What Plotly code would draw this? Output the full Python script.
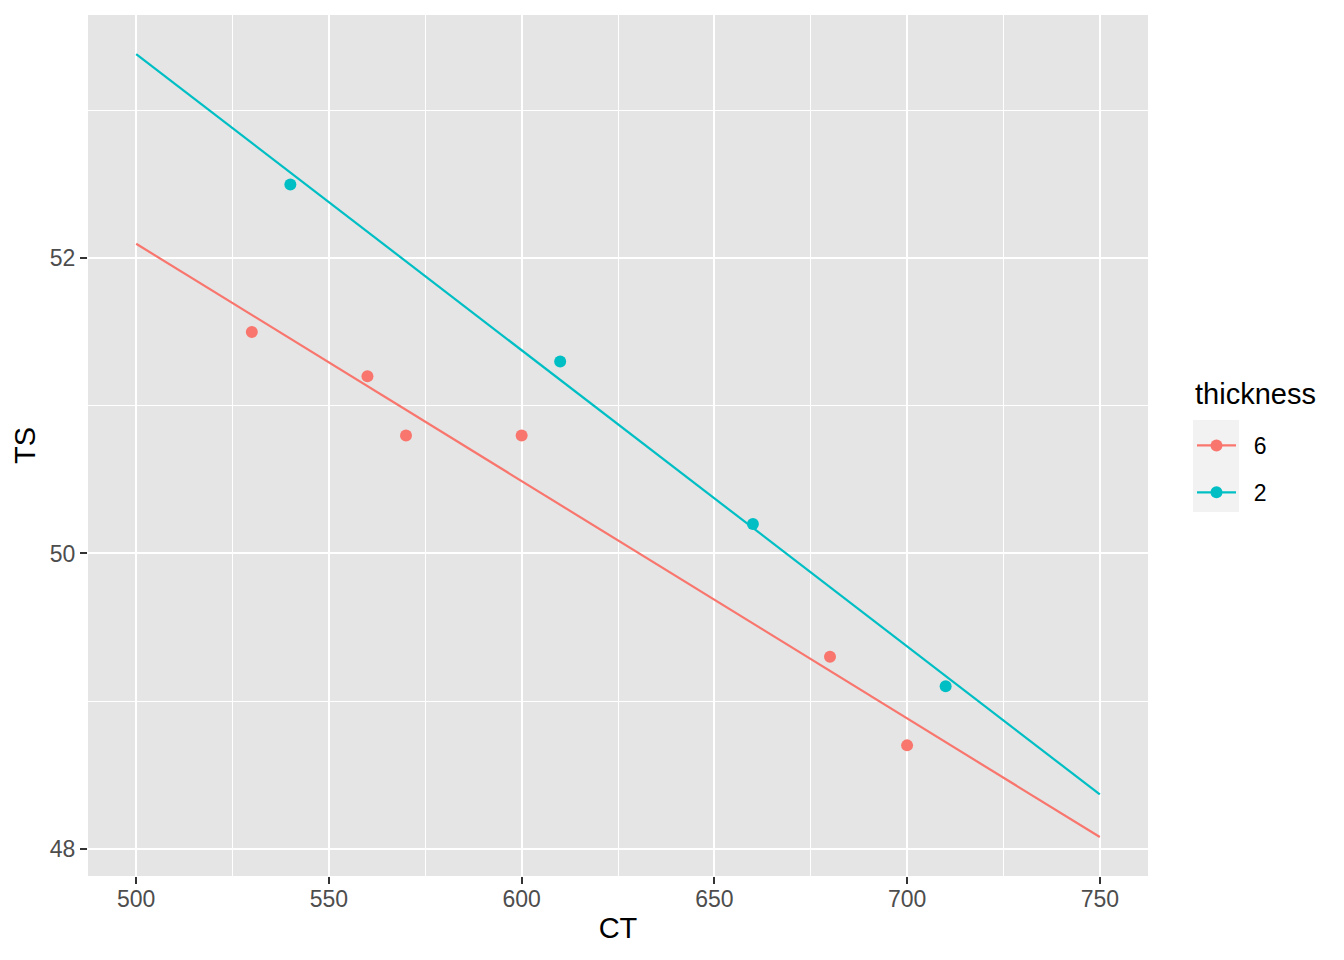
import numpy as np
import plotly.graph_objects as go

# Data
ct_6 = [530, 560, 570, 600, 680, 700]
ts_6 = [51.5, 51.2, 50.8, 50.8, 49.3, 48.7]
ct_2 = [540, 610, 660, 710]
ts_2 = [52.5, 51.3, 50.2, 49.1]
fit_range = [500, 750]
groups = ["6", "2"]
colors = ["#F8766D", "#00BFC4"]

font_family = "Liberation Sans, Arial, Helvetica, sans-serif"

# figure is placed at an 8px page offset, so size/margins compensate
W, H = 1336, 952
ML, MR, MT, MB = 80, 196, 7, 84
PW, PH = W - ML - MR, H - MT - MB


def px_x(px):  # window px -> paper x
    return (px - 8 - ML) / PW


def px_y(py):  # window px -> paper y
    return (H - MB - (py - 8)) / PH


fig = go.Figure()

for name, xs, ys, col in [(groups[0], ct_6, ts_6, colors[0]), (groups[1], ct_2, ts_2, colors[1])]:
    slope, intercept = np.polyfit(xs, ys, 1)
    lx = np.array(fit_range, dtype=float)
    ly = slope * lx + intercept
    fig.add_trace(go.Scatter(
        x=lx, y=ly, mode="lines", line=dict(color=col, width=2.2),
        name=name, legendgroup=name, showlegend=False, hoverinfo="skip"))
    fig.add_trace(go.Scatter(
        x=xs, y=ys, mode="markers",
        marker=dict(color=col, size=12), name=name, legendgroup=name,
        showlegend=False))

for name, col in zip(groups, colors):
    fig.add_trace(go.Scatter(
        x=[None], y=[None], mode="lines+markers",
        line=dict(color=col, width=2.2), marker=dict(color=col, size=12),
        name="\u00a0\u00a0" + name, legendgroup=name, showlegend=True))

axis_common = dict(
    showline=False, zeroline=False,
    gridcolor="white", gridwidth=2.4,
    ticks="outside", ticklen=7, tickwidth=2.2, tickcolor="#333333",
    tickfont=dict(family=font_family, size=23, color="#4D4D4D"),
    title_font=dict(family=font_family, size=29, color="black"),
)

fig.update_xaxes(
    range=[487.5, 762.5], tickmode="linear", tick0=500, dtick=50,
    minor=dict(dtick=25, tick0=500, showgrid=True, gridcolor="white", gridwidth=1.2, ticks=""),
    title_text="CT", title_standoff=7, ticklabelstandoff=-5, **axis_common)
fig.update_yaxes(
    range=[47.815, 53.648], tickmode="linear", tick0=48, dtick=2,
    minor=dict(dtick=1, tick0=48, showgrid=True, gridcolor="white", gridwidth=1.2, ticks=""),
    title_text="TS", title_standoff=5, **axis_common)

# grey key background like ggplot legend keys
fig.add_shape(type="rect", xref="paper", yref="paper",
              x0=px_x(1193), x1=px_x(1239), y0=px_y(512), y1=px_y(420),
              fillcolor="#F2F2F2", line=dict(width=0), layer="below")

fig.add_annotation(text="thickness", xref="paper", yref="paper",
                   x=px_x(1193), y=px_y(394), xanchor="left", yanchor="middle",
                   showarrow=False,
                   font=dict(family=font_family, size=29, color="black"))

fig.update_layout(
    width=W, height=H,
    margin=dict(l=ML, r=MR, t=MT, b=MB),
    plot_bgcolor="#E5E5E5", paper_bgcolor="white",
    font=dict(family=font_family, color="black"),
    legend=dict(
        font=dict(family=font_family, size=23, color="black"),
        x=px_x(1192), xanchor="left", y=px_y(424), yanchor="top",
        bgcolor="rgba(0,0,0,0)", tracegroupgap=14, itemwidth=39,
    ),
)

fig.write_html("out.html")
